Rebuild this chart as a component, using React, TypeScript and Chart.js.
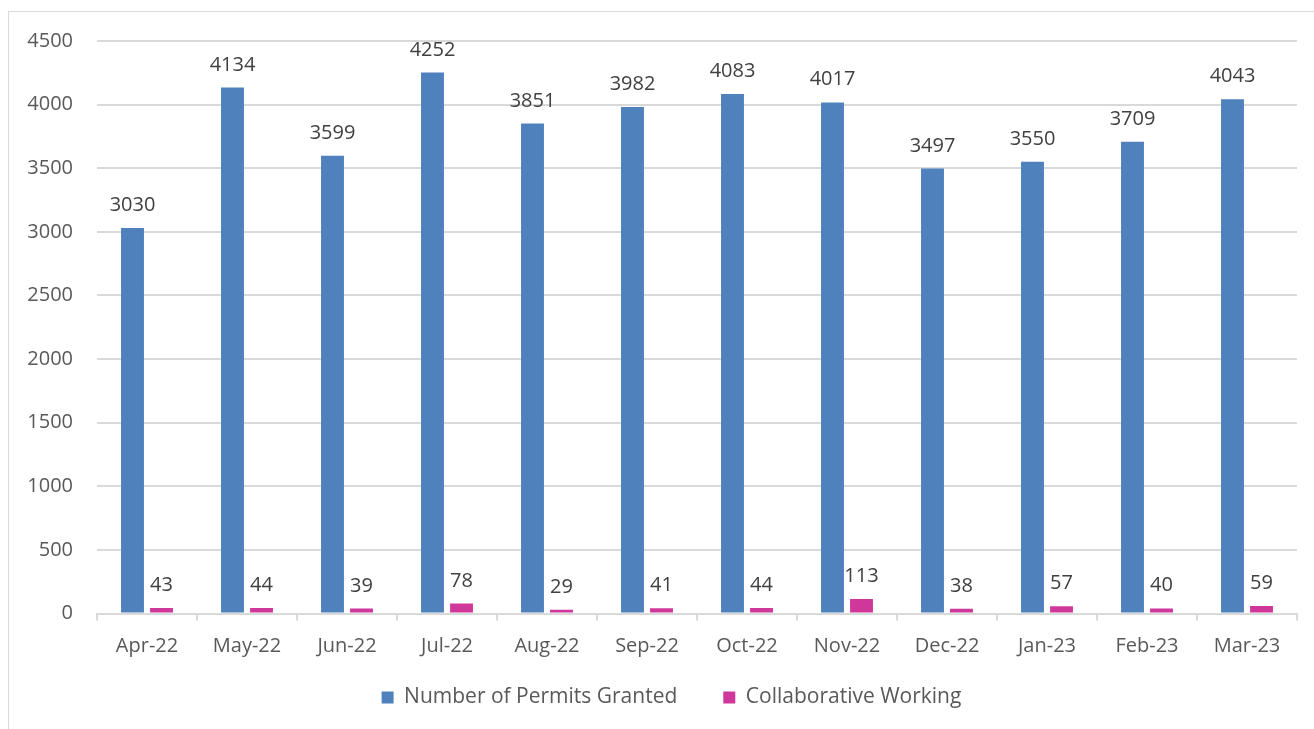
import React, { useEffect, useRef } from "react";
import { Chart, registerables } from "chart.js";

Chart.register(...registerables);

const categories = ["Apr-22", "May-22", "Jun-22", "Jul-22", "Aug-22", "Sep-22", "Oct-22", "Nov-22", "Dec-22", "Jan-23", "Feb-23", "Mar-23"];
const permitsGranted = [3030, 4134, 3599, 4252, 3851, 3982, 4083, 4017, 3497, 3550, 3709, 4043];
const collaborativeWorking = [43, 44, 39, 78, 29, 41, 44, 113, 38, 57, 40, 59];
const seriesNames = ["Number of Permits Granted", "Collaborative Working"];

const FONT = "'Open Sans', 'Noto Sans', sans-serif";
const LEGEND_TOP = 641;
const LEGEND_CENTER_X = 671.5;
const CANVAS_H = 729;

const valueLabels = {
  id: "valueLabels",
  afterDatasetsDraw(chart: any) {
    const ctx = chart.ctx;
    ctx.save();
    ctx.font = `20px ${FONT}`;
    ctx.fillStyle = "#404040";
    ctx.textAlign = "center";
    ctx.textBaseline = "alphabetic";
    chart.data.datasets.forEach((ds: any, di: number) => {
      const meta = chart.getDatasetMeta(di);
      meta.data.forEach((bar: any, i: number) => {
        ctx.fillText(String(ds.data[i]), bar.x, bar.y - 17);
      });
    });
    ctx.restore();
  },
};

const legendPlacer = {
  id: "legendPlacer",
  afterLayout(chart: any) {
    const lg = chart.legend;
    if (!lg) return;
    lg.top = LEGEND_TOP;
    lg.bottom = CANVAS_H;
    lg.height = CANVAS_H - LEGEND_TOP;
    const shift = LEGEND_CENTER_X - (lg.left + lg.right) / 2;
    lg.left += shift;
    lg.right += shift;
  },
};

export default function App() {
  const ref = useRef<HTMLCanvasElement | null>(null);
  useEffect(() => {
    if (!ref.current) return;
    const chart = new Chart(ref.current, {
      type: "bar",
      data: {
        labels: categories,
        datasets: [
          {
            label: seriesNames[0],
            data: permitsGranted,
            backgroundColor: "#4F81BD",
            categoryPercentage: 0.58,
            barPercentage: 0.79,
          },
          {
            label: seriesNames[1],
            data: collaborativeWorking,
            backgroundColor: "#D0379B",
            categoryPercentage: 0.58,
            barPercentage: 0.79,
          },
        ],
      },
      options: {
        responsive: false,
        animation: false,
        maintainAspectRatio: false,
        layout: { padding: { top: 41, left: 0, right: 46, bottom: 0 } },
        plugins: {
          tooltip: { enabled: false },
          legend: {
            position: "bottom",
            maxHeight: 56.5,
            labels: {
              font: { family: FONT, size: 21 },
              color: "#595959",
              boxWidth: 12,
              boxHeight: 12,
              padding: 46,
            },
          },
        },
        scales: {
          x: {
            grid: {
              display: true,
              drawOnChartArea: false,
              drawTicks: true,
              tickLength: 7,
              color: "#d9d9d9",
              lineWidth: 2,
            },
            border: { display: true, color: "#d9d9d9", width: 2 },
            ticks: {
              font: { family: FONT, size: 20 },
              color: "#595959",
              padding: 14,
              maxRotation: 0,
            },
          },
          y: {
            min: 0,
            max: 4500,
            afterFit: (s: any) => { s.width = 97; },
            grid: { color: "#d9d9d9", lineWidth: 2, drawTicks: false },
            border: { display: false },
            ticks: {
              stepSize: 500,
              font: { family: FONT, size: 20 },
              color: "#595959",
              padding: 24,
              callback: (v: any) => String(v),
            },
          },
        },
      },
      plugins: [valueLabels, legendPlacer],
    });
    return () => chart.destroy();
  }, []);

  return (
    <div style={{ position: "fixed", left: 0, top: 0, width: 1314, height: 729, overflow: "hidden", background: "#fff" }}>
      <div style={{ position: "absolute", left: 8, top: 11, width: 1340, height: 760, border: "1px solid #d9d9d9", boxSizing: "border-box" }} />
      <canvas ref={ref} width={1343} height={CANVAS_H} style={{ position: "absolute", left: 0, top: 0, width: 1343, height: CANVAS_H }} />
    </div>
  );
}
